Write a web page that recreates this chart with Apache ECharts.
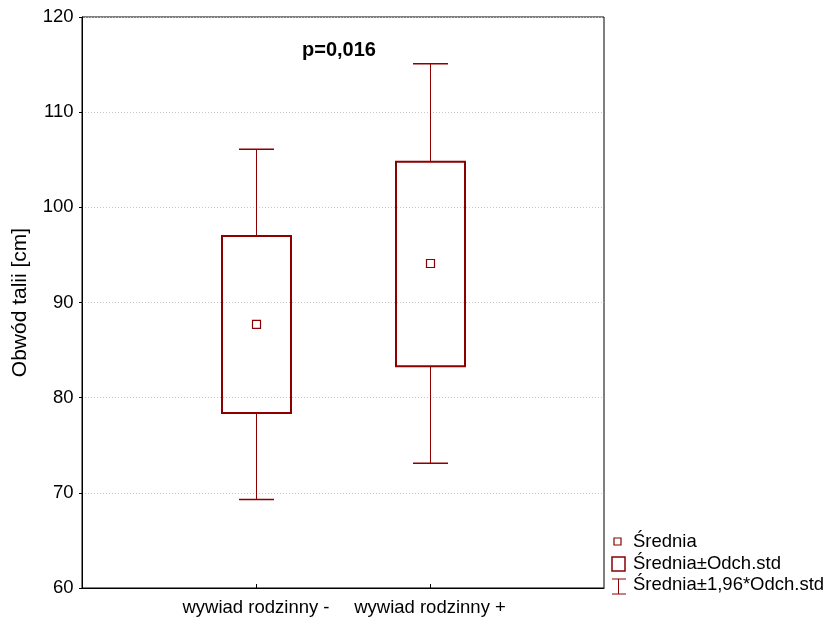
<!DOCTYPE html>
<html><head><meta charset="utf-8">
<script src="https://cdn.jsdelivr.net/npm/echarts@6/dist/echarts.min.js"></script>
<style>html,body{margin:0;padding:0;background:#fff}#c{width:831px;height:622px}</style>
</head><body><div id="c"></div>
<script>
const categories = ['', 'wywiad rodzinny -', 'wywiad rodzinny +', ''];
const means   = [87.7, 94.1];
const sdLow   = [78.4, 83.3];
const sdHigh  = [97.0, 104.8];
const ciLow   = [69.3, 73.1];
const ciHigh  = [106.1, 115.1];
const yTicks  = [60, 70, 80, 90, 100, 110, 120];
const legendLabels = ['Średnia', 'Średnia±Odch.std', 'Średnia±1,96*Odch.std'];
const annotation = 'p=0,016';

const COLOR = '#8b0000';
const FONT = 'Liberation Sans';
const data = means.map((m, i) => [i + 1, ciLow[i], sdLow[i], m, sdHigh[i], ciHigh[i]]);

const chart = echarts.init(document.getElementById('c'));
chart.setOption({
  animation: false,
  grid: { left: 82, right: 227, top: 17, bottom: 34, show: true, borderColor: '#000', borderWidth: 1, backgroundColor: 'transparent' },
  xAxis: {
    type: 'category', data: categories, boundaryGap: false,
    axisLine: { lineStyle: { color: '#000' } },
    axisTick: { inside: true, length: 4, lineStyle: { color: '#000' }, interval: (i) => i === 1 || i === 2 },
    axisLabel: { interval: (i) => i === 1 || i === 2, color: '#000', fontFamily: FONT, fontSize: 18.5, margin: 10 },
    splitLine: { show: false }
  },
  yAxis: {
    type: 'value', min: yTicks[0], max: yTicks[yTicks.length - 1], interval: 10,
    name: 'Obwód talii [cm]', nameLocation: 'middle', nameGap: 51,
    nameTextStyle: { color: '#000', fontFamily: FONT, fontSize: 21 },
    axisLine: { show: true, lineStyle: { color: '#000' } },
    axisTick: { show: true, length: 3, lineStyle: { color: '#000' } },
    axisLabel: { color: '#000', fontFamily: FONT, fontSize: 18.5, margin: 8.5 },
    splitLine: { show: true, lineStyle: { color: '#c8c8c8', type: [1, 2], width: 1 } }
  },
  series: [{
    type: 'custom',
    data: data,
    encode: { x: 0, y: [1, 2, 3, 4, 5] },
    renderItem: function (params, api) {
      const x = api.value(0);
      const pLo = api.coord([x, api.value(1)]);
      const pSl = api.coord([x, api.value(2)]);
      const pM  = api.coord([x, api.value(3)]);
      const pSh = api.coord([x, api.value(4)]);
      const pHi = api.coord([x, api.value(5)]);
      const cx = Math.round(pM[0]) + 0.5;
      const bw = 69, cw = 35, ms = 8;
      return {
        type: 'group',
        children: [
          { type: 'line', shape: { x1: cx, y1: pHi[1], x2: cx, y2: pSh[1] }, style: { stroke: COLOR, lineWidth: 1 } },
          { type: 'line', shape: { x1: cx, y1: pSl[1], x2: cx, y2: pLo[1] }, style: { stroke: COLOR, lineWidth: 1 } },
          { type: 'line', shape: { x1: cx - cw / 2, y1: pHi[1], x2: cx + cw / 2, y2: pHi[1] }, style: { stroke: COLOR, lineWidth: 1.5 } },
          { type: 'line', shape: { x1: cx - cw / 2, y1: pLo[1], x2: cx + cw / 2, y2: pLo[1] }, style: { stroke: COLOR, lineWidth: 1.5 } },
          { type: 'rect', shape: { x: cx - bw / 2, y: pSh[1], width: bw, height: pSl[1] - pSh[1] }, style: { stroke: COLOR, fill: 'transparent', lineWidth: 2 } },
          { type: 'rect', shape: { x: cx - ms / 2, y: pM[1] - ms / 2, width: ms, height: ms }, style: { stroke: COLOR, fill: '#fff', lineWidth: 1.2 } }
        ]
      };
    }
  }],
  graphic: [
    { type: 'text', style: { x: 302, y: 50, text: annotation, font: 'bold 20px "Liberation Sans"', fill: '#000', verticalAlign: 'middle' } },
    { type: 'rect', shape: { x: 614, y: 538, width: 7, height: 7 }, style: { stroke: COLOR, fill: '#fff', lineWidth: 1.2 } },
    { type: 'text', style: { x: 633, y: 542, text: legendLabels[0], font: '18.5px "Liberation Sans"', fill: '#000', verticalAlign: 'middle' } },
    { type: 'rect', shape: { x: 612, y: 557, width: 13, height: 14 }, style: { stroke: COLOR, fill: '#fff', lineWidth: 1.5 } },
    { type: 'text', style: { x: 633, y: 564, text: legendLabels[1], font: '18.5px "Liberation Sans"', fill: '#000', verticalAlign: 'middle' } },
    { type: 'line', shape: { x1: 618.5, y1: 579, x2: 618.5, y2: 594 }, style: { stroke: COLOR, lineWidth: 1 } },
    { type: 'line', shape: { x1: 612, y1: 579, x2: 626, y2: 579 }, style: { stroke: COLOR, lineWidth: 1 } },
    { type: 'line', shape: { x1: 612, y1: 594, x2: 626, y2: 594 }, style: { stroke: COLOR, lineWidth: 1 } },
    { type: 'text', style: { x: 633, y: 585, text: legendLabels[2], font: '18.5px "Liberation Sans"', fill: '#000', verticalAlign: 'middle' } }
  ]
});
</script>
</body></html>
